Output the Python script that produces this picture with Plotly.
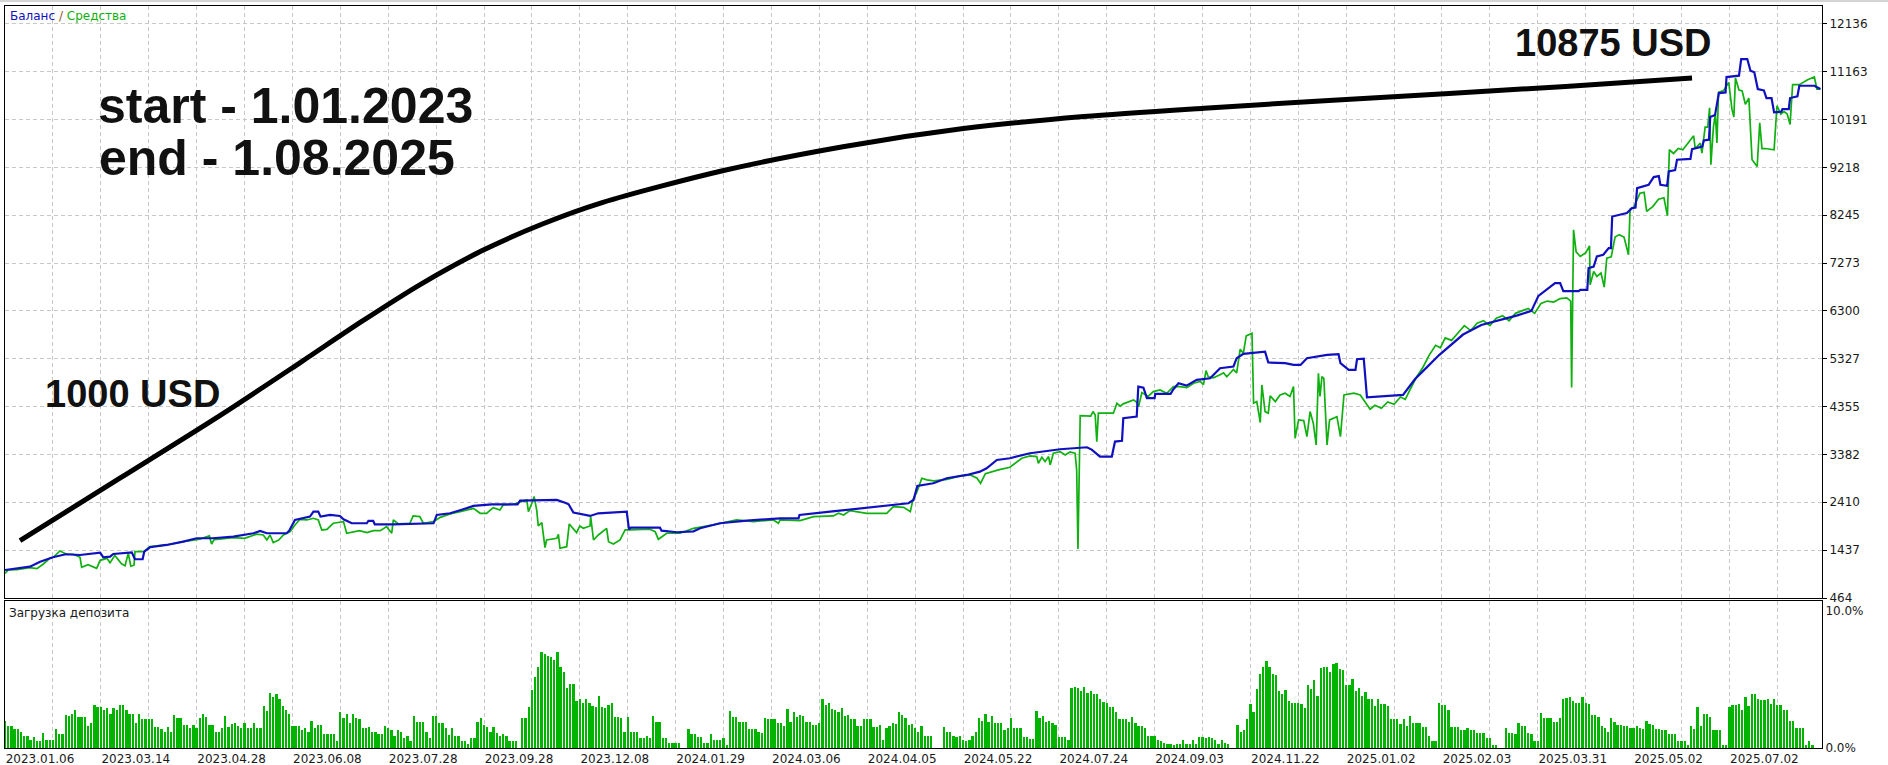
import plotly.graph_objects as go

# ---------------- data ----------------
# x unit = deal number (one load bar per deal)
X_RANGE = [0, 569]
GRID_STEP = 15
DATE_LABELS = ["2023.01.06", "2023.03.14", "2023.04.28", "2023.06.08", "2023.07.28",
               "2023.09.28", "2023.12.08", "2024.01.29", "2024.03.06", "2024.04.05",
               "2024.05.22", "2024.07.24", "2024.09.03", "2024.11.22", "2025.01.02",
               "2025.02.03", "2025.03.31", "2025.05.02", "2025.07.02"]

Y_TICKS = [464, 1437, 2410, 3382, 4355, 5327, 6300, 7273, 8245, 9218, 10191, 11163, 12136]
Y_RANGE = [464, 12497]

BALANCE = [(0, 1033), (4, 1068), (7.8, 1101), (11, 1202), (15, 1292), (19, 1353), (23.5, 1338),
           (29.8, 1385), (30.8, 1292), (32.9, 1304), (33.9, 1359), (39.7, 1393), (40.7, 1252),
           (43.1, 1252), (43.6, 1406), (45.4, 1495), (50.6, 1542), (55.8, 1609), (60, 1678),
           (65, 1678), (71.5, 1711), (77.8, 1780), (79.9, 1826), (82, 1780), (88.2, 1780),
           (89, 1833), (90.8, 2050), (95.5, 2118), (96.6, 2219), (98.1, 2219), (98.8, 2118),
           (101.8, 2152), (104.9, 2132), (106, 2064), (108.6, 1983), (113.3, 1983), (113.8, 2030),
           (115.3, 2030), (115.8, 1962), (121.6, 1962), (134.2, 1983), (135.2, 2152), (139.4, 2186),
           (143.5, 2267), (146.7, 2335), (152.4, 2369), (160.5, 2369), (161.3, 2443), (172.8, 2457),
           (175.4, 2400), (176.5, 2369), (178, 2199), (183.2, 2132), (185.8, 2186), (194.7, 2219),
           (195.4, 1861), (196, 1894), (205.1, 1894), (205.6, 1833), (210.4, 1800), (215.6, 1820),
           (217.7, 1881), (223.9, 1983), (232.3, 2036), (242.7, 2084), (248.5, 2084), (248.8, 2152),
           (258.4, 2219), (268.8, 2288), (279.3, 2355), (282.9, 2389), (284.5, 2457), (285.7, 2742),
           (290.7, 2796), (294.9, 2898), (301.2, 2965), (305.3, 3032), (307.4, 3101), (310.6, 3270),
           (314.7, 3305), (321, 3406), (330.4, 3488), (338.8, 3528), (340.3, 3480), (342.9, 3338),
           (346.6, 3338), (347.6, 3643), (349.8, 3660), (350.2, 4118), (354.4, 4152), (354.9, 4762),
           (356.5, 4740), (357.6, 4525), (360, 4525), (360.2, 4613), (365, 4613), (365.9, 4708),
           (367.5, 4830), (370, 4780), (373.2, 4897), (377.4, 4930), (380.5, 5135), (384.7, 5170),
           (385.7, 5338), (387.8, 5426), (394.6, 5473), (395.6, 5250), (400.9, 5237), (403.5, 5202),
           (405.7, 5202), (407.7, 5338), (414, 5405), (417.6, 5420), (418.2, 5237), (420.8, 5101),
           (422.9, 5101), (423.4, 5318), (425.5, 5330), (426.5, 4543), (437.8, 4592), (441.5, 4911),
           (445.3, 5157), (449.1, 5402), (456.6, 5819), (462.3, 6014), (473.6, 6209), (478, 6300),
           (480.2, 6605), (482.8, 6728), (485.4, 6864), (487, 6864), (488, 6700), (492.8, 6700),
           (493.3, 6728), (495.5, 6728), (495.9, 7169), (497.5, 7200), (498.5, 7406), (500.5, 7440),
           (502.2, 7575), (502.9, 7575), (503.3, 8218), (507.9, 8287), (509.5, 8389), (510.6, 8400),
           (511.1, 8795), (514.7, 8863), (516.3, 9019), (517.9, 9040), (518.4, 8863), (520.5, 8843),
           (521, 9134), (523, 9160), (523.6, 9372), (527.8, 9390), (528.3, 9589), (531.5, 9640),
           (532, 9765), (533.6, 9780), (534, 10239), (535.5, 10280), (536.7, 10727), (538.8, 10740),
           (539.1, 11053), (543, 11080), (543.7, 11419), (545.6, 11419), (546.6, 11182),
           (547.8, 11150), (548.9, 10809), (550.8, 10780), (551.6, 10626), (553.2, 10626),
           (554, 10334), (556.3, 10350), (556.6, 10402), (558.6, 10402), (559, 10626),
           (561.3, 10660), (561.9, 10876), (566.6, 10876), (567.5, 10850), (568.5, 10809)]

EQUITY = [(0, 966), (1, 1033), (3.7, 1040), (7.8, 1082), (10, 1060), (12, 1155), (14, 1270),
          (15.1, 1292), (17.2, 1420), (19.3, 1353), (21.4, 1353), (23.5, 1292), (24, 1088),
          (26, 1142), (28.7, 1068), (29.8, 1230), (31.9, 1270), (32.9, 1180), (34.4, 1331),
          (36.5, 1160), (37.6, 1120), (38.6, 1373), (39.4, 1110), (40.4, 1130), (40.7, 1406),
          (43.5, 1406), (45.4, 1510), (50.6, 1542), (55.8, 1609), (61, 1660), (64, 1725),
          (64.7, 1562), (65.5, 1650), (71.5, 1690), (75, 1678), (78.8, 1760), (80.9, 1745),
          (82, 1643), (83, 1745), (84, 1589), (85.7, 1643), (87.2, 1745), (89.3, 1813), (90.8, 1949),
          (92.4, 2064), (94.5, 2050), (96.6, 2084), (98.1, 2050), (99.2, 1847), (100.8, 1860),
          (102.8, 1983), (106, 2016), (107, 1780), (109, 1813), (111, 1833), (113.3, 1793),
          (115.4, 1833), (117.5, 1833), (119.5, 1915), (121.1, 1780), (121.6, 2050), (123.2, 1969),
          (126.8, 1983), (127.8, 2132), (129.9, 2118), (131, 1983), (134.2, 2016), (136.3, 2104),
          (139.4, 2172), (142.5, 2220), (146.7, 2287), (148.8, 2186), (150.8, 2186), (152.9, 2301),
          (155, 2254), (156, 2355), (159.2, 2369), (163.4, 2457), (163.9, 2219), (165, 2389),
          (165.7, 2525), (166.5, 2254), (167, 1928), (168.1, 1995), (169.1, 1487), (169.6, 1643),
          (172.8, 1678), (173.3, 1759), (173.8, 1474), (175.9, 1507), (176.7, 1969), (179, 1792),
          (180, 1928), (181.1, 1881), (183.2, 1928), (183.4, 2118), (184.3, 1643), (185.8, 1745),
          (188.4, 1881), (189, 1609), (190.5, 1562), (192.6, 1643), (194.2, 1847), (195.7, 1847),
          (202, 1861), (203.6, 1813), (204.6, 1657), (207.2, 1780), (211.4, 1780), (215.6, 1881),
          (221.8, 1949), (229.1, 2050), (234.4, 2016), (240.6, 2050), (242.2, 1983), (242.7, 2050),
          (249, 2036), (253.2, 2118), (259.4, 2132), (261, 2186), (262.6, 2152), (264.6, 2240),
          (269.9, 2186), (272, 2186), (276.1, 2186), (278.2, 2321), (281.4, 2308), (283.5, 2219),
          (284.3, 2457), (285.6, 2626), (287.1, 2898), (288.7, 2864), (290.8, 2843), (295, 2877),
          (297.1, 2918), (299.2, 2945), (302.3, 2965), (304.4, 2898), (305.5, 2796), (307, 2990),
          (311.1, 3067), (314.7, 3121), (318.4, 3305), (321, 3352), (323.1, 3338), (323.6, 3203),
          (324.7, 3325), (325.7, 3236), (326.8, 3338), (327.3, 3169), (328.3, 3406), (330.4, 3440),
          (332, 3372), (333.5, 3433), (335.1, 3406), (335.6, 3067), (336.0, 1460), (336.4, 3500),
          (336.7, 4172), (340, 4160), (340.7, 4253), (341.4, 4185), (341.9, 3643), (342.4, 4220),
          (347.1, 4220), (348.2, 4423), (349.2, 4362), (350.2, 4410), (353.4, 4491), (354.4, 4440),
          (355, 4355), (356, 4640), (358, 4560), (359.6, 4660), (361.7, 4694), (363.8, 4626),
          (365.9, 4762), (368, 4762), (370.1, 4740), (372.2, 4830), (374.3, 4865), (375.3, 4800),
          (376.1, 5087), (376.8, 4960), (378.4, 4940), (380.5, 5000), (381.6, 5040), (382.6, 4960),
          (383.7, 5040), (384.7, 5108), (385.7, 5040), (386.8, 5521), (387.8, 5440), (388.7, 5792),
          (390.5, 5846), (391, 4423), (392, 4457), (393.1, 4030), (393.6, 4795), (394.6, 4253),
          (395.6, 4220), (396.2, 4572), (397.8, 4457), (399.3, 4592), (400.9, 4626), (402.4, 4559),
          (403.5, 4762), (404, 3711), (405.1, 4084), (406.7, 4070), (407.7, 3745), (408.7, 4253),
          (409.7, 4016), (410.6, 3575), (411.3, 5033), (411.8, 4559), (412.4, 4965), (413, 4930),
          (414, 3575), (414.8, 4084), (417.1, 4150), (418.2, 3745), (419.3, 4592), (422.4, 4626),
          (424.4, 4592), (426, 4450), (427.5, 4300), (429, 4380), (431, 4320), (433, 4450),
          (435, 4400), (437, 4550), (438.5, 4500), (440, 4700), (442, 4950), (444, 5150),
          (446, 5400), (448, 5600), (449.5, 5550), (451, 5750), (453, 5700), (455, 5850),
          (457, 6000), (459, 5900), (461, 6050), (463, 6100), (465, 6000), (467, 6150), (469, 6200),
          (471, 6100), (473, 6250), (475, 6300), (477, 6350), (479, 6250), (481, 6450), (483, 6500),
          (485, 6480), (487, 6550), (489.1, 6565), (490.3, 6500), (490.6, 4741), (490.9, 6400),
          (491.2, 7948), (492, 7500), (493.3, 7406), (495, 7480), (496.2, 7623), (496.4, 6829),
          (497.5, 7100), (498.5, 7000), (499.8, 7070), (500.8, 6782), (501.6, 7372), (503, 7400),
          (504.2, 7802), (505.5, 7850), (507, 7800), (508.4, 7440), (508.9, 8368), (510, 8400),
          (512, 8693), (513.3, 8710), (514.1, 8321), (516, 8420), (517.8, 8571), (519.5, 8600),
          (520.6, 8232), (521.2, 9575), (522.5, 9500), (524, 9600), (525.4, 9575), (526.4, 9656),
          (527.6, 9750), (528.8, 9860), (529.3, 9600), (530.9, 9710), (531.4, 9507), (532.4, 10036),
          (533.2, 10036), (533.8, 10429), (534.2, 9270), (535, 10036), (535.6, 10300), (536.1, 9711),
          (536.6, 10741), (538.2, 10780), (539.8, 10944), (540.8, 10400), (541.4, 10239),
          (541.9, 11032), (543, 10790), (544, 10770), (545, 10500), (546.1, 10626), (547.1, 9372),
          (548.7, 9236), (549.5, 10124), (550.2, 9600), (551.2, 9600), (552.7, 9580), (554, 9575),
          (554.9, 10470), (556.1, 10300), (557.1, 10350), (558.1, 10300), (559, 10090),
          (559.8, 10897), (561.9, 10897), (564.5, 10998), (566.6, 11053), (567.4, 10809),
          (568.5, 10809)]

# deposit load, % (one bar per deal)
LOAD = [2.0, 1.6, 1.6, 1.4, 1.4, 1.2, 0.9, 0.9, 0.6, 0.8, 0.5, 0.5, 1.1, 0.6, 0.6,
        0.55, 1.35, 1.05, 1.0, 2.4, 2.3, 2.5, 2.8, 2.25, 2.25, 2.25, 1.6, 1.8, 3.1, 3.0,
        3.0, 2.8, 2.9, 2.5, 2.9, 2.8, 3.1, 3.1, 2.8, 2.45, 2.45, 1.8, 2.45, 2.1, 2.1,
        2.1, 2.1, 1.55, 1.55, 1.35, 1.2, 1.55, 1.2, 2.4, 2.2, 2.2, 1.65, 1.65, 1.45, 1.7,
        1.45, 2.2, 2.5, 2.25, 1.65, 1.65, 1.2, 1.2, 1.45, 2.3, 1.55, 1.75, 1.85, 1.6, 1.45,
        1.85, 1.45, 1.45, 1.8, 1.45, 1.45, 3.05, 2.7, 4.0, 3.7, 3.9, 3.6, 3.05, 2.75, 2.45,
        1.6, 1.6, 1.6, 1.3, 1.45, 1.2, 2.0, 1.45, 1.7, 1.7, 1.0, 1.0, 1.0, 1.0, 0.5,
        2.65, 2.2, 2.45, 1.85, 2.5, 2.15, 2.1, 1.45, 1.45, 1.5, 1.2, 1.2, 1.0, 1.0, 1.6,
        1.45, 1.3, 0.9, 1.3, 1.2, 0.75, 0.9, 0.5, 2.3, 1.9, 1.9, 1.9, 1.2, 0.75, 2.3,
        2.3, 1.8, 1.8, 1.45, 0.95, 1.45, 0.9, 0.9, 0.5, 0.5, 0.3, 0.75, 0.75, 1.9, 2.15,
        1.65, 1.55, 1.2, 1.5, 1.1, 0.9, 1.0, 0.9, 0.5, 0.5, 0.5, 0.0, 2.15, 2.2, 2.95,
        4.2, 5.2, 5.9, 7.0, 6.85, 6.7, 6.6, 6.4, 7.0, 5.9, 5.55, 4.4, 4.65, 4.65, 3.4,
        3.55, 3.3, 3.6, 3.3, 3.05, 2.95, 3.8, 2.95, 2.9, 3.1, 3.25, 2.25, 2.25, 2.2, 1.2,
        2.25, 1.2, 1.2, 1.2, 0.7, 0.75, 0.85, 0.75, 2.33, 1.9, 1.9, 0.75, 0.75, 0.35, 0.35,
        0.35, 0.35, 0.0, 0.0, 1.35, 1.05, 1.05, 0.8, 0.8, 0.4, 0.4, 1.0, 0.55, 0.55, 0.55,
        0.75, 0.2, 2.7, 2.25, 2.25, 1.9, 1.9, 1.9, 1.4, 1.4, 1.4, 1.2, 1.1, 2.15, 2.1,
        2.1, 2.1, 1.85, 1.85, 1.6, 2.85, 1.9, 2.6, 2.25, 2.4, 2.3, 1.9, 1.9, 1.7, 1.65,
        1.85, 3.6, 3.1, 3.3, 2.85, 2.8, 2.65, 2.9, 2.3, 2.4, 2.1, 2.1, 1.6, 1.6, 2.1,
        2.1, 2.1, 1.5, 1.5, 1.65, 0.55, 1.45, 1.6, 1.85, 1.75, 2.6, 2.4, 2.2, 1.7, 1.75,
        1.45, 1.2, 1.6, 0.9, 0.9, 0.9, 0.0, 0.0, 0.0, 1.5, 1.2, 1.2, 0.85, 0.8, 0.85,
        0.55, 0.5, 0.55, 0.9, 1.2, 2.15, 2.0, 2.45, 1.9, 2.3, 1.85, 1.85, 1.85, 1.3, 1.45,
        2.2, 1.45, 1.45, 1.45, 0.8, 0.8, 0.65, 0.65, 2.7, 2.2, 2.3, 1.9, 1.95, 1.8, 1.65,
        0.8, 0.8, 0.8, 0.55, 4.35, 4.45, 4.4, 4.15, 4.45, 4.0, 4.15, 3.9, 3.9, 3.55, 3.35,
        3.3, 3.0, 2.95, 2.65, 2.1, 2.1, 2.1, 1.9, 2.25, 1.85, 1.6, 1.6, 1.45, 0.9, 0.9,
        0.9, 0.6, 0.5, 0.35, 0.3, 0.3, 0.25, 0.3, 0.3, 0.55, 0.3, 0.3, 0.55, 0.3, 0.8,
        0.8, 0.75, 0.8, 0.75, 0.55, 0.3, 0.55, 0.35, 0.3, 0.0, 0.0, 1.7, 1.2, 1.3, 2.1,
        3.2, 2.6, 4.3, 5.4, 5.9, 6.3, 5.9, 5.4, 5.3, 4.15, 3.9, 4.2, 3.4, 3.3, 3.3,
        3.3, 3.2, 2.9, 4.6, 4.3, 4.95, 3.8, 5.85, 5.9, 5.9, 5.55, 6.15, 6.2, 5.75, 5.7,
        4.55, 4.55, 5.0, 4.15, 4.4, 3.8, 4.1, 3.55, 3.55, 3.05, 3.55, 3.2, 3.2, 3.05, 2.1,
        2.1, 2.1, 1.75, 2.1, 1.6, 2.3, 1.8, 1.85, 1.8, 1.5, 1.5, 0.9, 0.5, 0.5, 3.25,
        3.1, 3.1, 2.8, 1.5, 1.5, 1.5, 1.3, 1.3, 1.45, 1.3, 1.3, 1.1, 1.1, 1.1, 0.75,
        0.75, 0.25, 0.25, 0.0, 0.0, 1.45, 1.1, 1.1, 1.0, 1.85, 1.6, 1.6, 1.1, 1.0, 0.5,
        0.5, 2.55, 2.2, 2.2, 2.2, 1.9, 1.9, 2.2, 3.6, 3.65, 3.7, 3.4, 3.3, 3.3, 3.7,
        3.3, 3.2, 2.4, 2.4, 2.25, 1.6, 1.45, 1.2, 2.2, 1.9, 1.7, 1.7, 1.6, 1.6, 1.45,
        1.45, 1.6, 1.45, 1.35, 2.0, 1.75, 1.7, 1.35, 1.35, 1.3, 1.3, 1.0, 1.0, 1.0, 0.5,
        0.5, 0.5, 0.25, 1.6, 1.4, 2.95, 1.6, 2.5, 2.5, 2.25, 1.3, 1.3, 1.3, 0.25, 0.25,
        3.0, 3.1, 3.1, 3.2, 2.75, 3.7, 3.05, 3.9, 3.9, 3.6, 3.5, 3.5, 3.6, 3.2, 3.6,
        3.15, 3.15, 2.75, 2.75, 1.95, 1.95, 1.45, 1.45, 1.45, 0.2, 0.5, 0.25]
LOAD_RANGE = [0, 10.7]

# hand-drawn annotation curve (deal, USD)
ARROW_CURVE = [(4.7, 1631), (36.1, 2904), (67.4, 4177), (92.7, 5260), (111.6, 6080),
               (130.4, 6850), (149.3, 7520), (168.1, 8060), (187.0, 8500), (224.7, 9147),
               (262.4, 9637), (300.1, 10005), (337.8, 10250), (375.5, 10420), (413.2, 10569),
               (450.9, 10715), (488.7, 10862), (528.3, 11032)]

# ---------------- figure ----------------
BLUE = "#1010C0"
GREEN = "#10B010"
GRIDC = "#C8C8C8"
TICKFONT = dict(family="DejaVu Sans", size=12, color="#1a1a1a")
BIG = dict(family="Liberation Sans", size=50, color="#111111")

fig = go.Figure()
fig.add_trace(go.Bar(x=list(range(len(LOAD))), y=LOAD, marker_color="#00B400",
                     marker_line_width=0, width=0.72, xaxis="x", yaxis="y", showlegend=False))
fig.add_trace(go.Scatter(x=[p[0] for p in EQUITY], y=[p[1] for p in EQUITY], mode="lines",
                         line=dict(color=GREEN, width=1.7), xaxis="x2", yaxis="y2", showlegend=False))
fig.add_trace(go.Scatter(x=[p[0] for p in BALANCE], y=[p[1] for p in BALANCE], mode="lines",
                         line=dict(color=BLUE, width=2.2), xaxis="x2", yaxis="y2", showlegend=False))
fig.add_trace(go.Scatter(x=[p[0] for p in ARROW_CURVE], y=[p[1] for p in ARROW_CURVE], mode="lines",
                         line=dict(color="black", width=5, shape="spline", smoothing=0.8),
                         xaxis="x2", yaxis="y2", showlegend=False))

grid_vals = [GRID_STEP * k for k in range(int(X_RANGE[1] // GRID_STEP) + 1)]
grid_text = [DATE_LABELS[k // 2] if (k % 2 == 0 and k // 2 < len(DATE_LABELS)) else "" for k in range(len(grid_vals))]

L, R, T, B = 5, 66, 6, 17
W, H = 1888, 765
PW, PH = W - L - R, H - T - B


def fx(px):
    return (px - L) / PW


def fy(py):
    return (H - B - py) / PH


main_dom = [fy(598), 1]
load_dom = [0, fy(601)]

axis_common = dict(showline=True, mirror=True, linecolor="black", linewidth=1, zeroline=False,
                   automargin=False)

fig.update_layout(
    width=W, height=H,
    margin=dict(l=L, r=R, t=T, b=B, autoexpand=False),
    paper_bgcolor="white", plot_bgcolor="white",
    bargap=0, hovermode=False,
    xaxis=dict(domain=[0, 1], anchor="y", range=X_RANGE, tickmode="array", tickvals=grid_vals,
               ticktext=grid_text, showgrid=True, gridcolor=GRIDC, griddash="4px,3px", gridwidth=1,
               ticks="", tickfont=TICKFONT, ticklabelshift=35, **axis_common),
    yaxis=dict(domain=load_dom, anchor="x", range=LOAD_RANGE, side="right", tickmode="array",
               tickvals=[0, 10], ticktext=["0.0%", "10.0%"], showgrid=False, ticks="",
               tickfont=TICKFONT, **axis_common),
    xaxis2=dict(domain=[0, 1], anchor="y2", matches="x", tickmode="array", tickvals=grid_vals,
                showticklabels=False, showgrid=True, gridcolor=GRIDC, griddash="4px,3px", gridwidth=1,
                ticks="", **axis_common),
    yaxis2=dict(domain=main_dom, anchor="x2", range=Y_RANGE, side="right", tickmode="array",
                tickvals=Y_TICKS, ticktext=[str(v) for v in Y_TICKS], showgrid=True, gridcolor=GRIDC,
                griddash="4px,3px", ticks="outside", ticklen=4, tickcolor="black",
                tickfont=TICKFONT, **axis_common),
)

ann = []
ann.append(dict(xref="paper", yref="paper", x=fx(8), y=fy(16), xanchor="left", yanchor="middle",
                showarrow=False, text="<span style='color:#1010C0'>Баланс</span> "
                "<span style='color:#8a5a20'>/</span> <span style='color:#10B010'>Средства</span>",
                font=dict(family="DejaVu Sans", size=12)))
ann.append(dict(xref="paper", yref="paper", x=fx(7), y=fy(613), xanchor="left", yanchor="middle",
                showarrow=False, text="Загрузка депозита",
                font=dict(family="DejaVu Sans", size=12, color="#1a1a1a")))
ann.append(dict(xref="paper", yref="paper", x=fx(96), y=fy(106), xanchor="left", yanchor="middle",
                showarrow=False, text="<b>start - 1.01.2023</b>", font=BIG))
ann.append(dict(xref="paper", yref="paper", x=fx(97), y=fy(158), xanchor="left", yanchor="middle",
                showarrow=False, text="<b>end - 1.08.2025</b>", font=BIG))
ann.append(dict(xref="paper", yref="paper", x=fx(43), y=fy(394), xanchor="left", yanchor="middle",
                showarrow=False, text="<b>1000 USD</b>", font=dict(BIG, size=38)))
ann.append(dict(xref="paper", yref="paper", x=fx(1513), y=fy(43), xanchor="left", yanchor="middle",
                showarrow=False, text="<b>10875 USD</b>", font=dict(BIG, size=38)))
fig.update_layout(annotations=ann)

fig.add_shape(type="line", xref="paper", yref="paper", x0=fx(0), x1=fx(W), y0=fy(1), y1=fy(1),
              line=dict(color="#A8A8A8", width=1))

fig.write_html("out.html", config={"displayModeBar": False, "staticPlot": True},
               post_script="document.body.style.margin='0px';"
               "document.body.style.padding='0px';document.body.style.overflow='hidden';")
